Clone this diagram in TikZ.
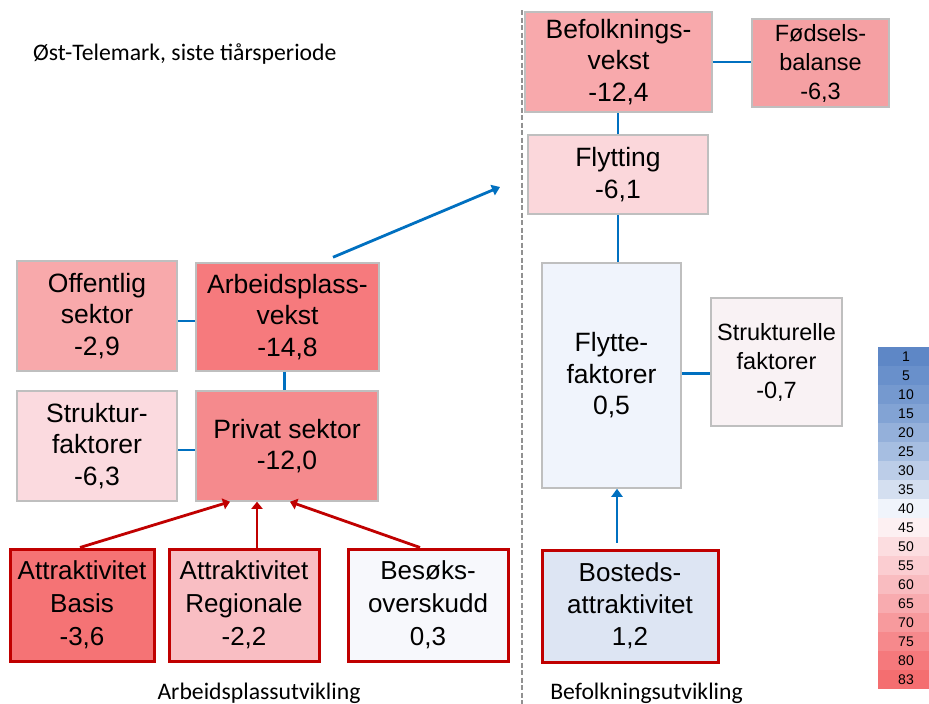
\documentclass[tikz,border=0pt]{standalone}
\usepackage{fontspec}
\setmainfont{Liberation Sans}
\newfontfamily\calibri{Carlito}
\usetikzlibrary{arrows.meta,calc}
\definecolor{boxgray}{HTML}{BFBFBF}
\definecolor{darkred}{HTML}{C00000}
\definecolor{lineblue}{HTML}{0070C0}
\definecolor{dashgray}{HTML}{919191}
\definecolor{cBef}{HTML}{F8A9AC}
\definecolor{cFod}{HTML}{F5A0A3}
\definecolor{cFly}{HTML}{FBD7DB}
\definecolor{cFlf}{HTML}{F0F4FC}
\definecolor{cStr}{HTML}{F9F2F4}
\definecolor{cBos}{HTML}{DDE5F3}
\definecolor{cOff}{HTML}{F8A9AB}
\definecolor{cArb}{HTML}{F67A7D}
\definecolor{cStf}{HTML}{FBDADF}
\definecolor{cPriv}{HTML}{F58A8D}
\definecolor{cBas}{HTML}{F57375}
\definecolor{cReg}{HTML}{F9BEC3}
\definecolor{cBes}{HTML}{F7F8FC}
\definecolor{L1}{HTML}{5E87C6}
\definecolor{L2}{HTML}{6990CB}
\definecolor{L3}{HTML}{7599CF}
\definecolor{L4}{HTML}{82A3D4}
\definecolor{L5}{HTML}{94B0DA}
\definecolor{L6}{HTML}{A6BEE1}
\definecolor{L7}{HTML}{BCCDE8}
\definecolor{L8}{HTML}{D4DFF0}
\definecolor{L9}{HTML}{F0F4FB}
\definecolor{L10}{HTML}{FDF0F2}
\definecolor{L11}{HTML}{FCDDE0}
\definecolor{L12}{HTML}{FBCDD1}
\definecolor{L13}{HTML}{F9BCC0}
\definecolor{L14}{HTML}{F8ABAF}
\definecolor{L15}{HTML}{F79A9D}
\definecolor{L16}{HTML}{F6898C}
\definecolor{L17}{HTML}{F5797C}
\definecolor{L18}{HTML}{F46E70}
\tikzset{
  box/.style={draw=boxgray, line width=1.5pt, inner sep=0pt, align=center,
    font=\fontsize{26.5}{31.5}\selectfont},
  smallbox/.style={box, font=\fontsize{23.5}{29}\selectfont},
  redbox/.style={box, draw=darkred, line width=3pt, font=\fontsize{26}{33}\selectfont},
  conn/.style={draw=lineblue, line width=2.8pt},
  bluearrow/.style={conn, -{Triangle[length=8pt,width=11pt]}},
  redarrow/.style={draw=darkred, line width=2.8pt, -{Triangle[length=7pt,width=11pt]}},
  legcell/.style={inner sep=0pt, minimum width=51pt, minimum height=19pt,
    font=\fontsize{14}{16}\selectfont},
  label/.style={font=\calibri\fontsize{23.7}{28}\selectfont, inner sep=0pt}
}
\begin{document}
\begin{tikzpicture}[x=1pt,y=-1pt]
\useasboundingbox (0,0) rectangle (929,704);
\fill[white] (0,0) rectangle (929,704);

% dashed divider
\coordinate (dtop) at (522,10);
\coordinate (dbot) at (522,704);
\draw[dashgray, line width=2.6pt, dash pattern=on 5pt off 2.5pt] (dtop) -- (dbot);

% title and section labels
\node[label, anchor=base west] (title) at (33,60) {Øst-Telemark, siste tiårsperiode};
\node[label, anchor=base] (arbutv) at (259,699) {Arbeidsplassutvikling};
\node[label, anchor=base] (befutv) at (646.5,699) {Befolkningsutvikling};

% right side
\node[box, fill=cBef, minimum width=187pt, minimum height=100pt] (bef) at (618.5,62) {Befolknings-\\vekst\\-12,4};
\node[smallbox, fill=cFod, minimum width=137pt, minimum height=88pt] (fod) at (820.5,63) {Fødsels-\\balanse\\-6,3};
\node[box, fill=cFly, minimum width=180pt, minimum height=79pt] (fly) at (618,174.5) {Flytting\\-6,1};
\node[box, fill=cFlf, minimum width=139pt, minimum height=225pt] (flf) at (611.5,375.5) {Flytte-\\faktorer\\0,5};
\node[smallbox, fill=cStr, minimum width=131pt, minimum height=128pt] (str) at (776.5,362) {Strukturelle\\faktorer\\-0,7};
\node[redbox, fill=cBos, minimum width=176pt, minimum height=112pt, font=\fontsize{26}{32}\selectfont] (bos) at (630,606) {Bosteds-\\attraktivitet\\1,2};

% left side
\node[box, fill=cOff, minimum width=160pt, minimum height=110pt] (off) at (97,316) {Offentlig\\sektor\\-2,9};
\node[box, fill=cArb, minimum width=183pt, minimum height=108pt] (arb) at (287.5,317) {Arbeidsplass-\\vekst\\-14,8};
\node[box, fill=cStf, minimum width=160pt, minimum height=110pt] (stf) at (97,446) {Struktur-\\faktorer\\-6,3};
\node[box, fill=cPriv, minimum width=182pt, minimum height=110pt] (priv) at (287,446) {Privat sektor\\-12,0};
\node[redbox, fill=cBas, minimum width=144pt, minimum height=112pt] (bas) at (82,605) {Attraktivitet\\Basis\\-3,6};
\node[redbox, fill=cReg, minimum width=150pt, minimum height=112pt] (reg) at (244,605) {Attraktivitet\\Regionale\\-2,2};
\node[redbox, fill=cBes, minimum width=160pt, minimum height=112pt] (bes) at (428,605) {Besøks-\\overskudd\\0,3};

% connectors right
\draw[conn] (bef.east) -- (bef.east -| fod.west);
\draw[conn] (fly.north) -- (fly.north |- bef.south);
\draw[conn] (fly.south) -- (fly.south |- flf.north);
\draw[conn] ([yshift=2pt]flf.east) -- ([yshift=2pt]flf.east -| str.west);
\draw[bluearrow, shorten <=6pt] ([xshift=-13pt]bos.north) -- ([xshift=-13pt]bos.north |- flf.south);

% connectors left
\draw[conn] ([yshift=-5pt]off.east) -- ([yshift=-5pt]off.east -| arb.west);
\draw[conn] ([xshift=-3pt]arb.south) -- ([xshift=-3pt]arb.south |- priv.north);
\draw[conn] ([yshift=-4pt]stf.east) -- ([yshift=-4pt]stf.east -| priv.west);
\coordinate (flyend) at (500,187);
\draw[bluearrow] ([xshift=45.5pt,yshift=5pt]arb.north) -- (flyend);

\draw[redarrow] ([xshift=-2pt]bas.north) -- ([xshift=-57pt]priv.south);
\draw[redarrow] ([xshift=13pt]reg.north) -- ([xshift=13pt]reg.north |- priv.south);
\draw[redarrow] ([xshift=-8pt]bes.north) -- ([xshift=3pt]priv.south);

% legend
\foreach \v [count=\i] in {1,5,10,15,20,25,30,35,40,45,50,55,60,65,70,75,80,83} {
  \node[legcell, fill=L\i] (leg\i) at (903.5, {347+19*(\i-1)+9.5}) {\hspace*{5pt}\v};
}
\end{tikzpicture}
\end{document}
